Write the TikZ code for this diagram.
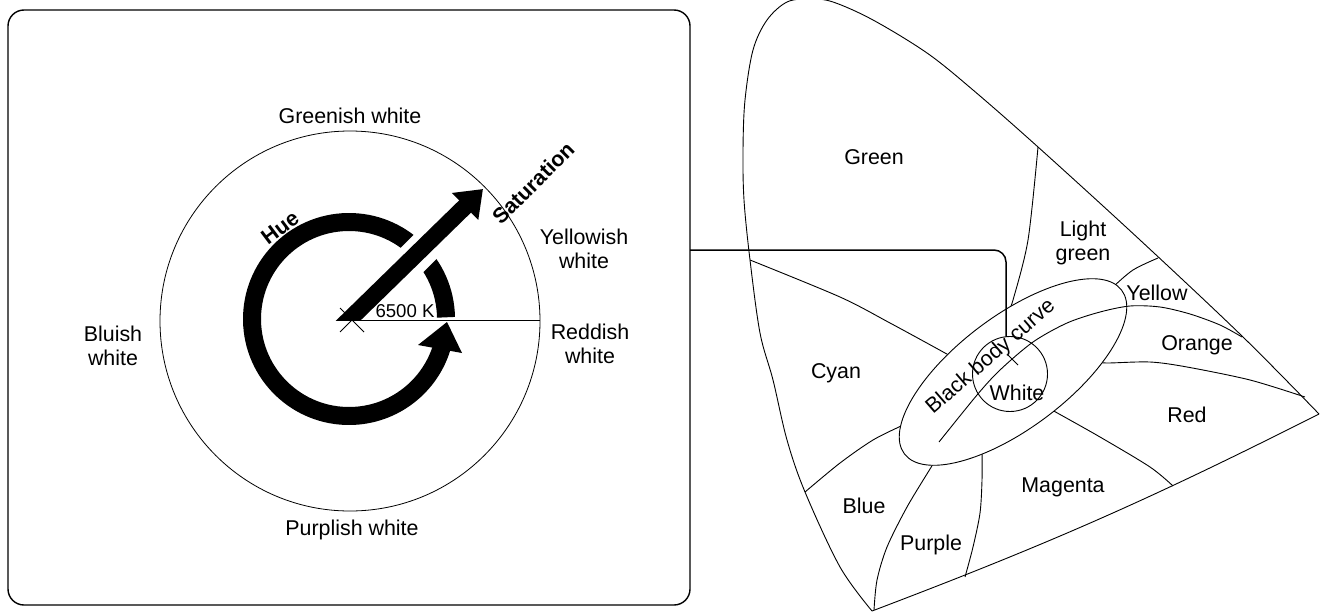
\documentclass[tikz,border=0pt]{standalone}
\usepackage{fontspec}
\setmainfont{Liberation Sans}
\usetikzlibrary{arrows.meta,positioning,shapes.geometric}
\tikzset{
  lab/.style={font=\fontsize{10.7}{12}\selectfont,align=center,inner sep=0pt},
  blab/.style={font=\fontsize{10.7}{12}\selectfont\bfseries,inner sep=0pt},
  kel/.style={font=\fontsize{9.3}{11}\selectfont,inner sep=0pt},
  fine/.style={line width=0.4pt},
  bnd/.style={line width=0.45pt},
  ring/.style={line width=9pt},
  sat/.style={line width=8.5pt,-{Triangle[length=12.5pt,width=18pt]}},
  frame/.style={draw,rounded corners=8pt,line width=0.7pt,minimum width=341pt,
    minimum height=297.5pt,inner sep=0pt,outer sep=0pt},
  link/.style={line width=0.75pt,rounded corners=6pt},
}
\begin{document}
\begin{tikzpicture}[x=0.5pt,y=0.5pt]
  \useasboundingbox (0,0) rectangle (1320,612);
  % left panel: hue and saturation round the white point
  \node[frame] (box) at (349,304.5) {};
  \coordinate (O) at (352,292);
  \coordinate (H) at (349,293);
  \coordinate (rim) at (540,292);
  \coordinate (satfoot) at (336.5,280);
  \coordinate (sattip) at (483,423);
  \draw[fine] (350,291) circle[radius=190];
  \draw[fine] (O) -- (rim);
  \draw[fine] (O) ++(-12,-12) -- ++(24,24) (O) ++(-12,12) -- ++(24,-24);
  \draw[ring] (H) ++(1:97) arc[start angle=1,end angle=344,radius=97];
  \draw[white,line width=16.5pt] (400,340) -- (444,384);
  \coordinate (hA) at (418,267);
  \coordinate (hB) at (447,290);
  \coordinate (hC) at (462,259);
  \fill (hA) -- (hB) -- (hC) -- cycle;
  \begin{scope}
    \clip (0,292) rectangle (700,612);
    \draw[sat] (satfoot) -- (sattip);
  \end{scope}
  \node[kel] (temp) at (405,301) {6500 K};
  \node[blab,rotate=37] (hue) at (280,384) {Hue};
  \node[blab,rotate=45] (satur) at (533,429) {Saturation};
  \node[lab] (gw) at (350,496) {Greenish white};
  \node[lab] (yw) at (584,363) {Yellowish\\ white};
  \node[lab] (rw) at (590,268) {Reddish\\ white};
  \node[lab] (bw) at (113,266) {Bluish\\ white};
  \node[lab] (pw) at (352,82) {Purplish white};
  % right panel: chromaticity diagram
  \coordinate (btip) at (872,1);
  \coordinate (rtip) at (1319,198);
  \draw[bnd] plot[smooth,tension=0.55] coordinates {(872,1) (840,45) (805,120)
    (787,172) (773,232) (760,279) (750,352) (744,412) (743,462) (745,512)
    (753,562) (767,592) (787,610) (810,613) (833,610) (873,592) (927,559)
    (973,522) (1038,465) (1140,372) (1243,275) (1319,198)};
  \draw[bnd] (btip) to[bend right=3] (rtip);
  \draw[bnd] plot[smooth] coordinates {(1038,465) (1028,372) (1013,312) (1008,300)};
  \draw[bnd] plot[smooth] coordinates {(750,352) (840,315) (890,289) (945,259) (955,253)};
  \draw[bnd] plot[smooth] coordinates {(1158,354) (1133,342) (1112,324) (1105,315)};
  \draw[bnd] plot[smooth] coordinates {(1098,250) (1108,249) (1150,250) (1187,245) (1250,232) (1305,215)};
  \draw[bnd] plot[smooth] coordinates {(1045,206) (1052,202) (1100,175) (1150,145) (1173,126)};
  \draw[bnd] plot[smooth] coordinates {(982,160) (982,132) (980,99) (973,65) (965,35)};
  \draw[bnd] plot[smooth] coordinates {(935,151) (930,143) (907,105) (887,65) (877,32) (874,2)};
  \draw[bnd] plot[smooth] coordinates {(912,192) (903,187) (873,172) (840,149) (805,120)};
  \node[ellipse,draw,bnd,fill=white,minimum width=136pt,minimum height=56pt,
    inner sep=0pt,rotate=37] (bb) at (1013,240) {};
  \node[circle,draw,bnd,minimum size=37.5pt,inner sep=0pt,outer sep=0pt] (wpt) at (1010,238) {};
  \draw[bnd] plot[smooth] coordinates {(939,170) (977,217) (1000,242) (1033,270)
    (1067,289) (1100,300) (1130,306) (1160,305) (1190,298) (1220,287) (1242,275)};
  \draw[bnd] (1008,257) -- (1018,247);
  \node[lab,rotate=41] (bbc) at (991,255) {Black body curve};
  \node[lab] (white) at (1017,219) {White};
  \node[lab] (green) at (874,455) {Green};
  \node[lab] (lgreen) at (1083,369) {Light\\ green};
  \node[lab] (yellow) at (1157,319) {Yellow};
  \node[lab] (orange) at (1197,267) {Orange};
  \node[lab] (red) at (1187,197) {Red};
  \node[lab] (magenta) at (1063,125) {Magenta};
  \node[lab] (cyan) at (836,239) {Cyan};
  \node[lab] (blue) at (864,106) {Blue};
  \node[lab] (purple) at (931,67) {Purple};
  \draw[link] ([yshift=28.75pt]box.east) -| ([xshift=-2pt]wpt.north);
\end{tikzpicture}
\end{document}
